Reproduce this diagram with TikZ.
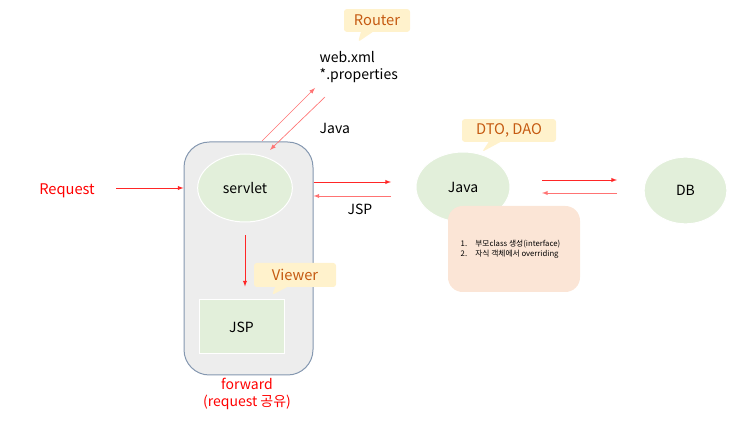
\documentclass[tikz,border=0pt]{standalone}
\usepackage{fontspec}
\setmainfont{Noto Sans CJK KR}
\usepackage{tikz}
\usetikzlibrary{arrows,positioning,calc,shapes}

\definecolor{leafgreen}{HTML}{E2EFDA}
\definecolor{boxgray}{HTML}{EDEDED}
\definecolor{boxedge}{HTML}{8497B0}
\definecolor{tipfill}{HTML}{FFF2CC}
\definecolor{tiptext}{HTML}{C55A11}
\definecolor{notefill}{HTML}{FBE5D6}

\tikzset{
  blob/.style={ellipse,fill=leafgreen,draw=white,line width=0.75pt},
  tipbox/.style={rectangle callout,fill=tipfill,text=tiptext,rounded corners=2pt,
    callout pointer width=9pt,inner sep=0pt,font=\fontsize{11}{13}\selectfont},
  flow/.style={->,red!85,line width=0.5pt},
  backflow/.style={->,red!55,line width=0.5pt}
}

\begin{document}
\begin{tikzpicture}[x=0.75pt,y=-0.75pt,>=latex,font=\fontsize{10.5}{13}\selectfont]
\useasboundingbox (0,0) rectangle (746,423);

% Web container
\node[draw=boxedge,fill=boxgray,line width=0.75pt,rounded corners=19pt,
  minimum width=96.75pt,minimum height=174.75pt] (app) at (248.5,258.5) {};
\node[blob,minimum width=71pt,minimum height=51pt] (servlet) at (245,188) {servlet};
\node[fill=leafgreen,draw=white,line width=0.75pt,minimum width=63.75pt,
  minimum height=40.5pt] (jsp) at (241.5,327) {JSP};
\node[red,align=center] (fwd) at (247,394) {forward\\(request 공유)};

% Model side
\node[blob,minimum width=70.5pt,minimum height=52.5pt] (java) at (463,187) {Java};
\node[fill=notefill,rounded corners=11pt,minimum width=99pt,minimum height=64.5pt]
  (note) at (514,249) {};
\node[align=left,anchor=west,font=\fontsize{5.8}{7.5}\selectfont] (notetext) at (456,249)
  {\makebox[11pt][l]{1.}부모class 생성(interface)\\\makebox[11pt][l]{2.}자식 객체에서 overriding};
\node[blob,minimum width=62pt,minimum height=50pt] (db) at (685.5,190.5) {DB};

% Labels
\node[red,font=\fontsize{11}{13}\selectfont] (request) at (67,191) {Request};
\node[align=left,anchor=west] (config) at (315,67) {web.xml\\*.properties};
\node[anchor=west] (javalbl) at (315,128) {Java};
\node (jsplbl) at (360,209) {JSP};

% Callouts
\node[tipbox,minimum width=49.5pt,minimum height=17pt,
  callout absolute pointer={(358,42)}] (router) at (377,20.5) {Router};
\node[tipbox,minimum width=70.5pt,minimum height=17pt,
  callout absolute pointer={(482,152)}] (dtodao) at (509,130.5) {DTO, DAO};
\node[tipbox,minimum width=61.5pt,minimum height=18pt,
  callout absolute pointer={(272,295)}] (viewer) at (295,275) {Viewer};

% Arrows
\coordinate (reqtail) at (116,188);
\draw[flow] (reqtail) -- (reqtail -| app.west);
\coordinate (fwdtail) at ($(servlet.south)+(0,13)$);
\draw[flow] (fwdtail) -- ($(fwdtail |- jsp.north)+(0,-13)$);
\coordinate (cfgout) at (262,141);
\coordinate (cfgin) at (315,88);
\coordinate (cfgback) at (325,97);
\coordinate (cfgend) at (270,150);
\draw[backflow] (cfgout) -- (cfgin);
\draw[backflow] (cfgback) -- (cfgend);
\coordinate (toJava) at (391,182);
\coordinate (fromJava) at (391,196);
\draw[flow] (toJava -| app.east) -- (toJava);
\draw[backflow] (fromJava) -- (fromJava -| app.east);
\coordinate (dbout) at (542,180);
\coordinate (toDB) at (617,180);
\coordinate (fromDB) at (617,193);
\coordinate (dbin) at (542,193);
\draw[flow] (dbout) -- (toDB);
\draw[backflow] (fromDB) -- (dbin);
\end{tikzpicture}
\end{document}
